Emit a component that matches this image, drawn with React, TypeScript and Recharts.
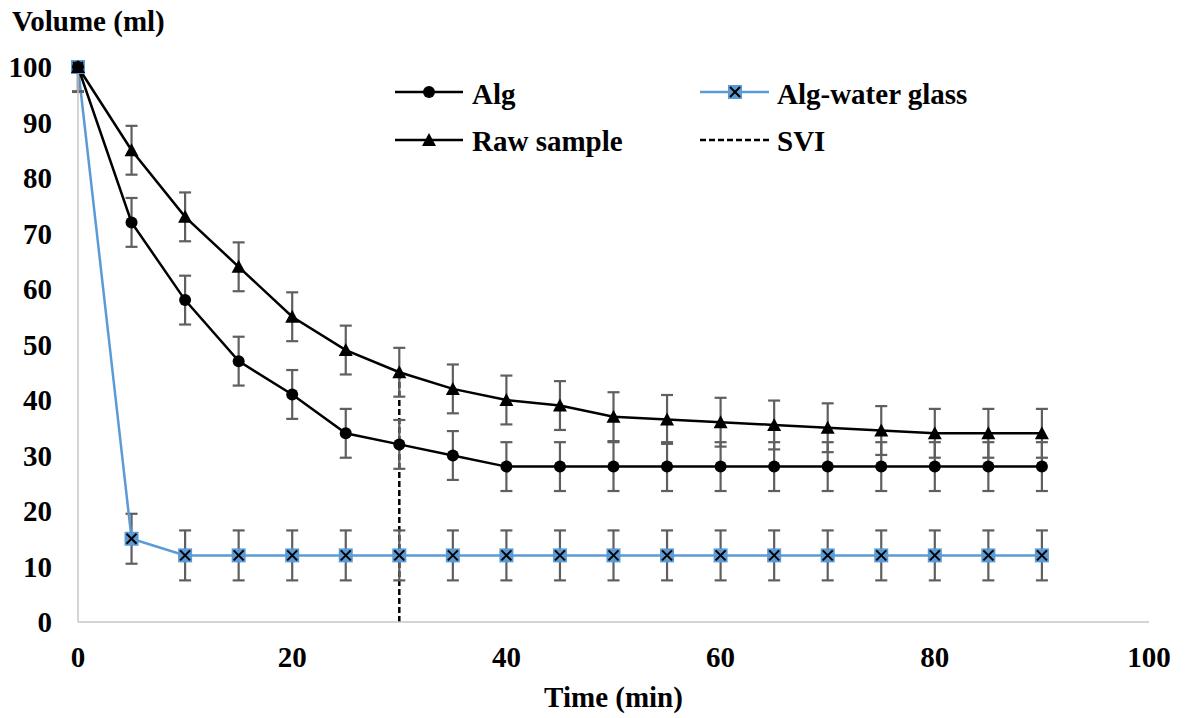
import { LineChart, Line, XAxis, YAxis, ErrorBar, ReferenceLine, Legend } from 'recharts'

const FONT = '"Liberation Serif", "Times New Roman", serif'
const BLUE = '#5b9bd5'
const ERR = '#5f5f5f'
const AXIS = '#c6c6c6'

// time in minutes
const time = [0, 5, 10, 15, 20, 25, 30, 35, 40, 45, 50, 55, 60, 65, 70, 75, 80, 85, 90]

// settled volume (ml)
const alg = [100, 72, 58, 47, 41, 34, 32, 30, 28, 28, 28, 28, 28, 28, 28, 28, 28, 28, 28]
const algWaterGlass = [100, 15, 12, 12, 12, 12, 12, 12, 12, 12, 12, 12, 12, 12, 12, 12, 12, 12, 12]
const rawSample = [100, 85, 73, 64, 55, 49, 45, 42, 40, 39, 37, 36.5, 36, 35.5, 35, 34.5, 34, 34, 34]

// error bars as [below, above]; the part above 100 is cut off at the plot edge
const algErr = [[4.4, 0], [4.4, 4.4], [4.4, 4.4], [4.4, 4.4], [4.4, 4.4], [4.4, 4.4], [4.4, 4.4], [4.4, 4.4], [4.4, 4.4], [4.4, 4.4], [4.4, 4.4], [4.4, 4.4], [4.4, 4.4], [4.4, 4.4], [4.4, 4.4], [4.4, 4.4], [4.4, 4.4], [4.4, 4.4], [4.4, 4.4]]
const algWaterGlassErr = [[4.5, 0], [4.5, 4.5], [4.5, 4.5], [4.5, 4.5], [4.5, 4.5], [4.5, 4.5], [4.5, 4.5], [4.5, 4.5], [4.5, 4.5], [4.5, 4.5], [4.5, 4.5], [4.5, 4.5], [4.5, 4.5], [4.5, 4.5], [4.5, 4.5], [4.5, 4.5], [4.5, 4.5], [4.5, 4.5], [4.5, 4.5]]
const rawSampleErr = [[4.4, 0], [4.4, 4.4], [4.4, 4.4], [4.4, 4.4], [4.4, 4.4], [4.4, 4.4], [4.4, 4.4], [4.4, 4.4], [4.4, 4.4], [4.4, 4.4], [4.4, 4.4], [4.4, 4.4], [4.4, 4.4], [4.4, 4.4], [4.4, 4.4], [4.4, 4.4], [4.4, 4.4], [4.4, 4.4], [4.4, 4.4]]

// SVI marker at 30 min
const sviTime = 30
const sviVolume = 45

const xTicks = [0, 20, 40, 60, 80, 100]
const yTicks = [0, 10, 20, 30, 40, 50, 60, 70, 80, 90, 100]

const build = (vals: number[], errs: number[][]) =>
  time.map((t, i) => ({ t, v: vals[i], e: errs[i] }))

const algData = build(alg, algErr)
const awgData = build(algWaterGlass, algWaterGlassErr)
const rawData = build(rawSample, rawSampleErr)

const circle = (cx: number, cy: number, key?: string) => (
  <circle key={key} cx={cx} cy={cy} r={6} fill="#000" />
)

const triangle = (cx: number, cy: number, key?: string) => (
  <polygon key={key} points={`${cx},${cy - 7} ${cx + 7},${cy + 6} ${cx - 7},${cy + 6}`} fill="#000" />
)

const crossSquare = (cx: number, cy: number, key?: string) => (
  <g key={key}>
    <rect x={cx - 7} y={cy - 7} width={14} height={14} fill={BLUE} />
    <line x1={cx - 5} y1={cy - 5} x2={cx + 5} y2={cy + 5} stroke="#000" strokeWidth={2} />
    <line x1={cx - 5} y1={cy + 5} x2={cx + 5} y2={cy - 5} stroke="#000" strokeWidth={2} />
  </g>
)

const dotOf = (shape: typeof circle, name: string) => (p: any) =>
  p.cx == null || p.cy == null ? <g key={`${name}-${p.index}`} /> : shape(p.cx, p.cy, `${name}-${p.index}`)

const textStyle = { fontFamily: FONT, fontWeight: 'bold' as const, fontSize: 29, fill: '#000' }

function LegendBox() {
  return (
    <svg width={1185} height={170} style={{ position: 'absolute', left: 0, top: 0, overflow: 'visible' }}>
      <line x1={395} y1={92} x2={463} y2={92} stroke="#000" strokeWidth={2.5} />
      {circle(429, 92)}
      <text x={472} y={104} style={textStyle}>Alg</text>

      <line x1={395} y1={140} x2={463} y2={140} stroke="#000" strokeWidth={2.5} />
      {triangle(429, 140)}
      <text x={472} y={151} style={textStyle}>Raw sample</text>

      <line x1={700} y1={92} x2={769} y2={92} stroke={BLUE} strokeWidth={2.5} />
      {crossSquare(735, 92)}
      <text x={777} y={104} style={textStyle}>Alg-water glass</text>

      <line x1={700} y1={140} x2={769} y2={140} stroke="#000" strokeWidth={2.5} strokeDasharray="6 3" />
      <text x={777} y={151} style={textStyle}>SVI</text>
    </svg>
  )
}

export default function App() {
  return (
    <div style={{ position: 'absolute', left: 0, top: 0, background: '#fff' }}>
      <LineChart width={1185} height={718} margin={{ top: 67, right: 36, bottom: 0, left: 0 }}>
        <XAxis
          type="number"
          dataKey="t"
          domain={[0, 100]}
          ticks={xTicks}
          interval={0}
          height={96}
          tickLine={false}
          tickMargin={18}
          axisLine={{ stroke: AXIS, strokeWidth: 1.5 }}
          tick={textStyle}
          label={{
            content: ({ viewBox }: any) => (
              <text x={viewBox.x + viewBox.width / 2} y={viewBox.y + 85} textAnchor="middle" style={textStyle}>
                Time (min)
              </text>
            ),
          }}
        />
        <YAxis
          type="number"
          domain={[0, 100]}
          ticks={yTicks}
          interval={0}
          width={78}
          tickLine={false}
          tickMargin={20}
          axisLine={{ stroke: AXIS, strokeWidth: 1.5 }}
          tick={textStyle}
          label={{
            content: ({ viewBox }: any) => (
              <text x={viewBox.x + 12} y={viewBox.y - 36} style={textStyle}>
                Volume (ml)
              </text>
            ),
          }}
        />
        <Legend
          layout="vertical"
          verticalAlign="middle"
          align="center"
          content={() => <LegendBox />}
          wrapperStyle={{ position: 'absolute', left: 0, top: 0, width: 1185, height: 170, pointerEvents: 'none' }}
        />
        <ReferenceLine
          segment={[{ x: sviTime, y: 0 }, { x: sviTime, y: sviVolume }]}
          stroke="#000"
          strokeWidth={2.5}
          strokeDasharray="6 3"
        />
        <Line
          data={awgData}
          dataKey="v"
          name="Alg-water glass"
          stroke={BLUE}
          strokeWidth={2.5}
          dot={dotOf(crossSquare, 'awg')}
          activeDot={false}
          isAnimationActive={false}
        >
          <ErrorBar dataKey="e" direction="y" width={6} stroke={ERR} strokeWidth={2.2} isAnimationActive={false} />
        </Line>
        <Line
          data={algData}
          dataKey="v"
          name="Alg"
          stroke="#000"
          strokeWidth={2.5}
          dot={dotOf(circle, 'alg')}
          activeDot={false}
          isAnimationActive={false}
        >
          <ErrorBar dataKey="e" direction="y" width={6} stroke={ERR} strokeWidth={2.2} isAnimationActive={false} />
        </Line>
        <Line
          data={rawData}
          dataKey="v"
          name="Raw sample"
          stroke="#000"
          strokeWidth={2.5}
          dot={dotOf(triangle, 'raw')}
          activeDot={false}
          isAnimationActive={false}
        >
          <ErrorBar dataKey="e" direction="y" width={6} stroke={ERR} strokeWidth={2.2} isAnimationActive={false} />
        </Line>
      </LineChart>
    </div>
  )
}
